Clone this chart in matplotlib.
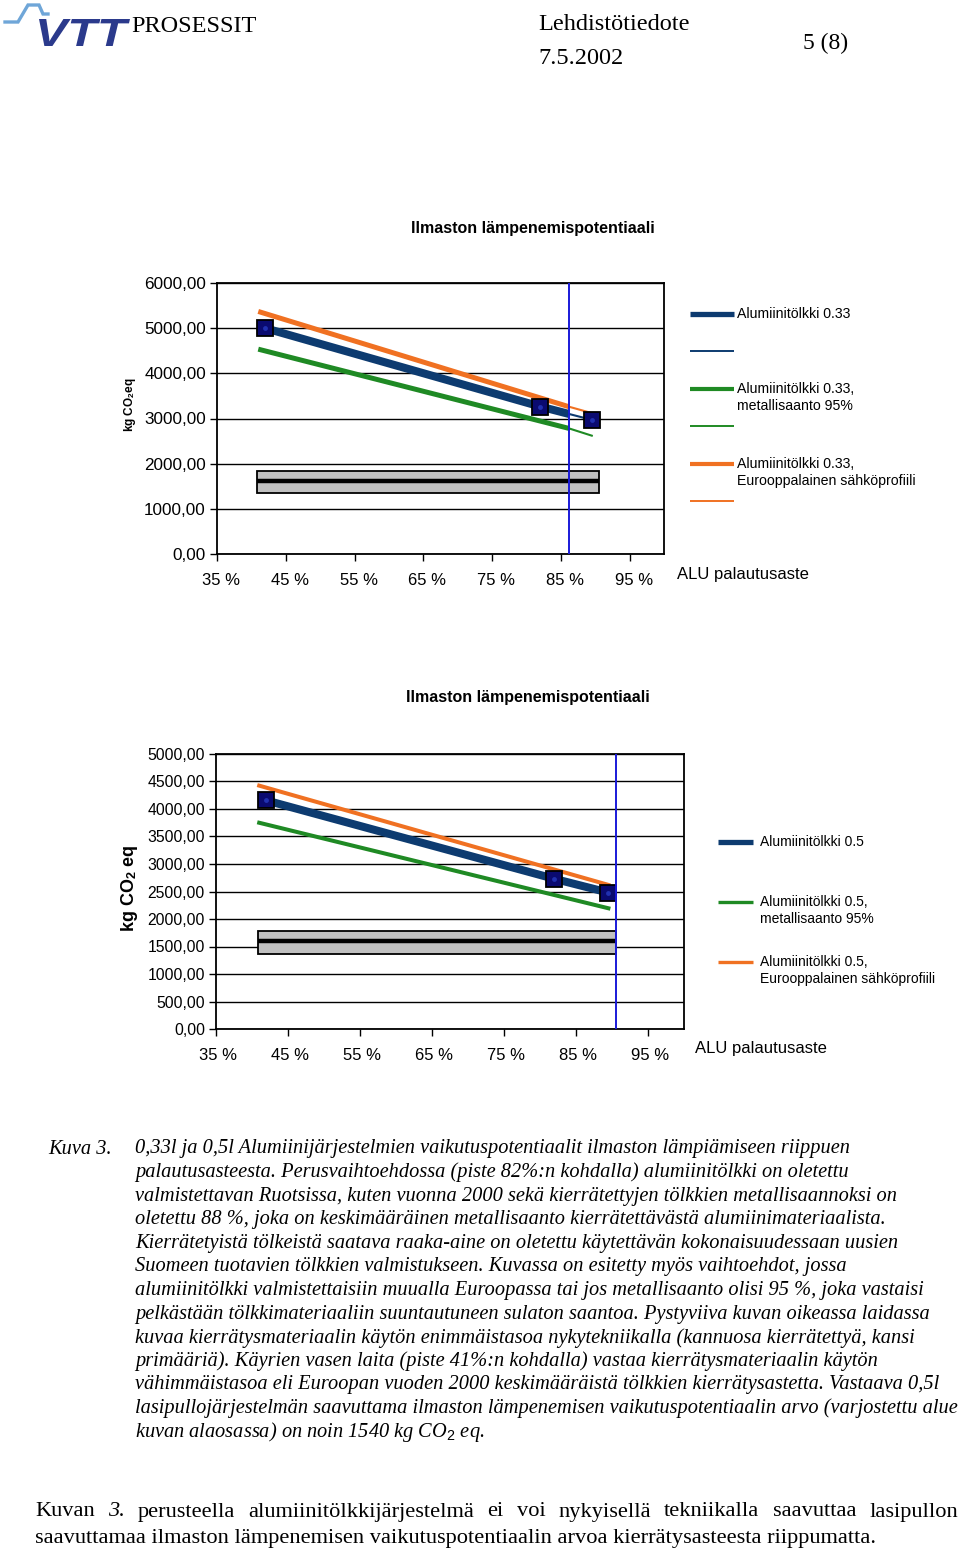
import matplotlib
matplotlib.use("Agg")
import matplotlib.pyplot as plt
from matplotlib.lines import Line2D
from matplotlib.patches import Rectangle, PathPatch
from matplotlib.textpath import TextPath
from matplotlib.font_manager import FontProperties
from matplotlib.transforms import Affine2D, ScaledTranslation

plt.rcParams['mathtext.fontset'] = 'custom'
plt.rcParams['mathtext.rm'] = 'Liberation Sans'
plt.rcParams['mathtext.bf'] = 'Liberation Sans:bold'
plt.rcParams['mathtext.it'] = 'Liberation Serif:italic'

W, H = 960, 1552
SANS = 'Liberation Sans'
SERIF = 'Liberation Serif'

# ---- data ----
x_ticks = [0.35, 0.45, 0.55, 0.65, 0.75, 0.85, 0.95]
x_labels = ['35 %', '45 %', '55 %', '65 %', '75 %', '85 %', '95 %']
chart_title = 'Ilmaston lämpenemispotentiaali'
x_name = 'ALU palautusaste'

# chart 1: 0.33 l can
c1_yticks = [0, 1000, 2000, 3000, 4000, 5000, 6000]
c1_mark_x = [0.42, 0.82, 0.895]
c1_mark_y = [5000, 3265, 2970]
c1_blue_x = [0.42, 0.82, 0.862]
c1_blue_y = [5000, 3265, 3100]
c1_blue_thin_x = [0.862, 0.895]
c1_blue_thin_y = [3100, 2970]
c1_green_x = [0.41, 0.862]
c1_green_y = [4535, 2780]
c1_green_thin_x = [0.862, 0.895]
c1_green_thin_y = [2780, 2620]
c1_orange_x = [0.41, 0.862]
c1_orange_y = [5370, 3260]
c1_orange_thin_x = [0.862, 0.895]
c1_orange_thin_y = [3260, 3120]
c1_glass_x = [0.408, 0.905]
c1_glass_lo, c1_glass_hi, c1_glass_mid = 1360, 1835, 1620
c1_vline = 0.862
c1_legend = ['Alumiinitölkki 0.33', None,
             'Alumiinitölkki 0.33,\nmetallisaanto 95%', None,
             'Alumiinitölkki 0.33,\nEurooppalainen sähköprofiili', None]

# chart 2: 0.5 l can
c2_yticks = [0, 500, 1000, 1500, 2000, 2500, 3000, 3500, 4000, 4500, 5000]
c2_blue_x = [0.42, 0.82, 0.895]
c2_blue_y = [4155, 2730, 2480]
c2_green_x = [0.41, 0.895]
c2_green_y = [3750, 2195]
c2_orange_x = [0.41, 0.895]
c2_orange_y = [4425, 2620]
c2_glass_x = [0.408, 0.905]
c2_glass_lo, c2_glass_hi, c2_glass_mid = 1360, 1785, 1600
c2_vline = 0.905
c2_legend = ['Alumiinitölkki 0.5',
             'Alumiinitölkki 0.5,\nmetallisaanto 95%',
             'Alumiinitölkki 0.5,\nEurooppalainen sähköprofiili']

caption_lines = [
    '0,33l ja 0,5l Alumiinijärjestelmien vaikutuspotentiaalit ilmaston lämpiämiseen riippuen',
    'palautusasteesta. Perusvaihtoehdossa (piste 82%:n kohdalla) alumiinitölkki on oletettu',
    'valmistettavan Ruotsissa, kuten vuonna 2000 sekä kierrätettyjen tölkkien metallisaannoksi on',
    'oletettu 88 %, joka on keskimääräinen metallisaanto kierrätettävästä alumiinimateriaalista.',
    'Kierrätetyistä tölkeistä saatava raaka-aine on oletettu käytettävän kokonaisuudessaan uusien',
    'Suomeen tuotavien tölkkien valmistukseen. Kuvassa on esitetty myös vaihtoehdot, jossa',
    'alumiinitölkki valmistettaisiin muualla Euroopassa tai jos metallisaanto olisi 95 %, joka vastaisi',
    'pelkästään tölkkimateriaaliin suuntautuneen sulaton saantoa. Pystyviiva kuvan oikeassa laidassa',
    'kuvaa kierrätysmateriaalin käytön enimmäistasoa nykytekniikalla (kannuosa kierrätettyä, kansi',
    'primääriä). Käyrien vasen laita (piste 41%:n kohdalla) vastaa kierrätysmateriaalin käytön',
    'vähimmäistasoa eli Euroopan vuoden 2000 keskimääräistä tölkkien kierrätysastetta. Vastaava 0,5l',
    'lasipullojärjestelmän saavuttama ilmaston lämpenemisen vaikutuspotentiaalin arvo (varjostettu alue',
    r'kuvan alaosassa) on noin 1540 kg CO$_{\mathit{2}}$ eq.',
]
para_line1 = 'Kuvan 3. perusteella alumiinitölkkijärjestelmä ei voi nykyisellä tekniikalla saavuttaa lasipullon'
para_line2 = 'saavuttamaa ilmaston lämpenemisen vaikutuspotentiaalin arvoa kierrätysasteesta riippumatta.'

NAVY = '#0d3b70'
GREEN = '#1f8a24'
ORANGE = '#f07122'
VBLUE = '#1a1ad8'
MARK = '#0a0a70'

fig = plt.figure(figsize=(W / 100, H / 100), dpi=100)


def fx(x):
    return x / W


def fy(y):
    return 1 - y / H


def px_axes(l, t, r, b):
    return fig.add_axes([l / W, 1 - b / H, (r - l) / W, (b - t) / H])


def fmt(v):
    return f'{v:.2f}'.replace('.', ',')


def style_axes(ax, yticks, ysize, xshift):
    ax.set_xlim(0.35, 1.0)
    ax.set_ylim(yticks[0], yticks[-1])
    ax.set_xticks(x_ticks)
    ax.set_xticklabels(x_labels, fontfamily=SANS, fontsize=12)
    ax.set_yticks(yticks)
    ax.set_yticklabels([fmt(v) for v in yticks], fontfamily=SANS, fontsize=ysize)
    ax.yaxis.grid(True, color='black', lw=1.0)
    ax.set_axisbelow(True)
    ax.tick_params(axis='y', direction='out', length=5, width=1, pad=3)
    ax.tick_params(axis='x', direction='out', length=5, width=1, pad=9)
    off = ScaledTranslation(xshift / 100, 0, fig.dpi_scale_trans)
    for lab in ax.get_xticklabels():
        lab.set_transform(lab.get_transform() + off)
    for s in ax.spines.values():
        s.set_linewidth(1.3)
        s.set_color('black')


def draw_glass(ax, gx, lo, hi, mid):
    ax.add_patch(Rectangle((gx[0], lo), gx[1] - gx[0], hi - lo,
                           facecolor='#c0c0c0', edgecolor='black', lw=1.3, zorder=2))
    ax.plot(gx, [mid, mid], color='black', lw=3.2, zorder=3, solid_capstyle='butt')


def legend_entry(x0, x1, y, color, lw, label, tx, size):
    fig.add_artist(Line2D([fx(x0), fx(x1)], [fy(y), fy(y)], color=color, lw=lw,
                          solid_capstyle='butt'))
    if label:
        fig.text(fx(tx), fy(y - 7), label, ha='left', va='top', fontfamily=SANS,
                 fontsize=size, linespacing=1.25)


# ---- header ----
fig.add_artist(Line2D([fx(p) for p in [5, 18, 28, 39, 43, 48]],
                      [fy(p) for p in [22, 22, 5, 5, 14, 14]],
                      color='#6fa6d8', lw=2.4, solid_joinstyle='miter'))
vtt = TextPath((0, 0), 'VTT', size=1,
               prop=FontProperties(family=SANS, weight='bold', style='italic'))
bb = vtt.get_extents()
sx = (130 - 39) / bb.width
sy = (46 - 19) / bb.height
vtt_tr = Affine2D().translate(-bb.x0, -bb.y0).scale(sx, sy).translate(39, H - 46)
fig.add_artist(PathPatch(vtt, transform=vtt_tr, facecolor='#2b3a8c', edgecolor='none'))
fig.text(fx(131), fy(32), 'PROSESSIT', fontfamily=SERIF, fontsize=17.5, ha='left', va='baseline')
fig.text(fx(538), fy(30), 'Lehdistötiedote', fontfamily=SERIF, fontsize=17.5, ha='left', va='baseline')
fig.text(fx(538), fy(64), '7.5.2002', fontfamily=SERIF, fontsize=17.5, ha='left', va='baseline')
fig.text(fx(803), fy(49), '5 (8)', fontfamily=SERIF, fontsize=17, ha='left', va='baseline')

# ---- chart 1 ----
ax1 = px_axes(217, 283, 664, 554)
style_axes(ax1, c1_yticks, 12.3, 4)
draw_glass(ax1, c1_glass_x, c1_glass_lo, c1_glass_hi, c1_glass_mid)
ax1.plot(c1_orange_x, c1_orange_y, color=ORANGE, lw=3.6, zorder=4, solid_capstyle='butt')
ax1.plot(c1_orange_thin_x, c1_orange_thin_y, color=ORANGE, lw=1.5, zorder=4)
ax1.plot(c1_green_x, c1_green_y, color=GREEN, lw=3.6, zorder=4, solid_capstyle='butt')
ax1.plot(c1_green_thin_x, c1_green_thin_y, color=GREEN, lw=1.5, zorder=4)
ax1.plot(c1_blue_x, c1_blue_y, color=NAVY, lw=5.8, zorder=5, solid_capstyle='butt')
ax1.plot(c1_blue_thin_x, c1_blue_thin_y, color=NAVY, lw=1.5, zorder=5)
ax1.plot(c1_mark_x, c1_mark_y, ls='none', marker='s', ms=11, mfc=MARK,
         mec='black', mew=1.3, zorder=6)
ax1.plot(c1_mark_x, c1_mark_y, ls='none', marker='o', ms=3.5, mfc='#2030b0',
         mec='none', zorder=6)
ax1.axvline(c1_vline, color=VBLUE, lw=1.4, zorder=7)
fig.text(fx(533), fy(228), chart_title, fontfamily=SANS, fontweight='bold', fontsize=11.5,
         ha='center', va='center')
fig.text(fx(130), fy(405), r'kg CO$_\mathbf{2}$eq', fontfamily=SANS, fontweight='bold',
         fontsize=8.5, rotation=90, ha='center', va='center')
fig.text(fx(677), fy(574), x_name, fontfamily=SANS, fontsize=12, ha='left', va='center')

leg1_y = [314, 351, 389, 426, 464, 501]
leg1_c = [NAVY, NAVY, GREEN, GREEN, ORANGE, ORANGE]
leg1_w = [3.8, 1.4, 3.0, 1.4, 3.0, 1.4]
for y, c, w, lab in zip(leg1_y, leg1_c, leg1_w, c1_legend):
    legend_entry(690, 734, y, c, w, lab, 737, 10.2)

# ---- chart 2 ----
ax2 = px_axes(216, 754, 684, 1029)
style_axes(ax2, c2_yticks, 11.3, 2)
draw_glass(ax2, c2_glass_x, c2_glass_lo, c2_glass_hi, c2_glass_mid)
ax2.plot(c2_orange_x, c2_orange_y, color=ORANGE, lw=2.9, zorder=4)
ax2.plot(c2_green_x, c2_green_y, color=GREEN, lw=2.9, zorder=4)
ax2.plot(c2_blue_x, c2_blue_y, color=NAVY, lw=5.8, zorder=5, marker='s', ms=11,
         mfc=MARK, mec='black', mew=1.3)
ax2.plot(c2_blue_x, c2_blue_y, ls='none', marker='o', ms=3.5, mfc='#2030b0',
         mec='none', zorder=6)
ax2.axvline(c2_vline, color=VBLUE, lw=1.4, zorder=7)
fig.text(fx(528), fy(698), chart_title, fontfamily=SANS, fontweight='bold', fontsize=11.5,
         ha='center', va='center')
fig.text(fx(130), fy(888), r'kg CO$_\mathbf{2}$ eq', fontfamily=SANS, fontweight='bold',
         fontsize=13, rotation=90, ha='center', va='center')
fig.text(fx(695), fy(1049), x_name, fontfamily=SANS, fontsize=12, ha='left', va='center')

leg2_y = [842, 902, 962]
leg2_c = [NAVY, GREEN, ORANGE]
leg2_w = [3.8, 2.4, 2.4]
for y, c, w, lab in zip(leg2_y, leg2_c, leg2_w, c2_legend):
    legend_entry(718, 753, y, c, w, lab, 760, 10)

# ---- caption ----
cap_y0, cap_dy = 1149, 23.6
fig.text(fx(48), fy(cap_y0), 'Kuva 3.', fontfamily=SERIF, fontstyle='italic', fontsize=14.7,
         ha='left', va='center')
for i, line in enumerate(caption_lines):
    fig.text(fx(135), fy(cap_y0 + i * cap_dy), line, fontfamily=SERIF, fontstyle='italic',
             fontsize=14.7, ha='left', va='center')

# ---- final paragraph, first line justified ----
renderer = fig.canvas.get_renderer()


def justify(text, x0, x1, y, size):
    words = text.split(' ')
    objs = []
    for w in words:
        st = 'italic' if w == '3.' else 'normal'
        objs.append(fig.text(0, fy(y), w, fontfamily=SERIF, fontstyle=st, fontsize=size,
                             ha='left', va='center'))
    widths = [o.get_window_extent(renderer).width for o in objs]
    gap = (x1 - x0 - sum(widths)) / (len(words) - 1)
    x = x0
    for o, w in zip(objs, widths):
        o.set_x(fx(x))
        x += w + gap


justify(para_line1, 35, 958, 1512, 16.1)
fig.text(fx(35), fy(1538), para_line2, fontfamily=SERIF, fontsize=16.1, ha='left', va='center')

fig.savefig('out.png', dpi=100, facecolor='white')
